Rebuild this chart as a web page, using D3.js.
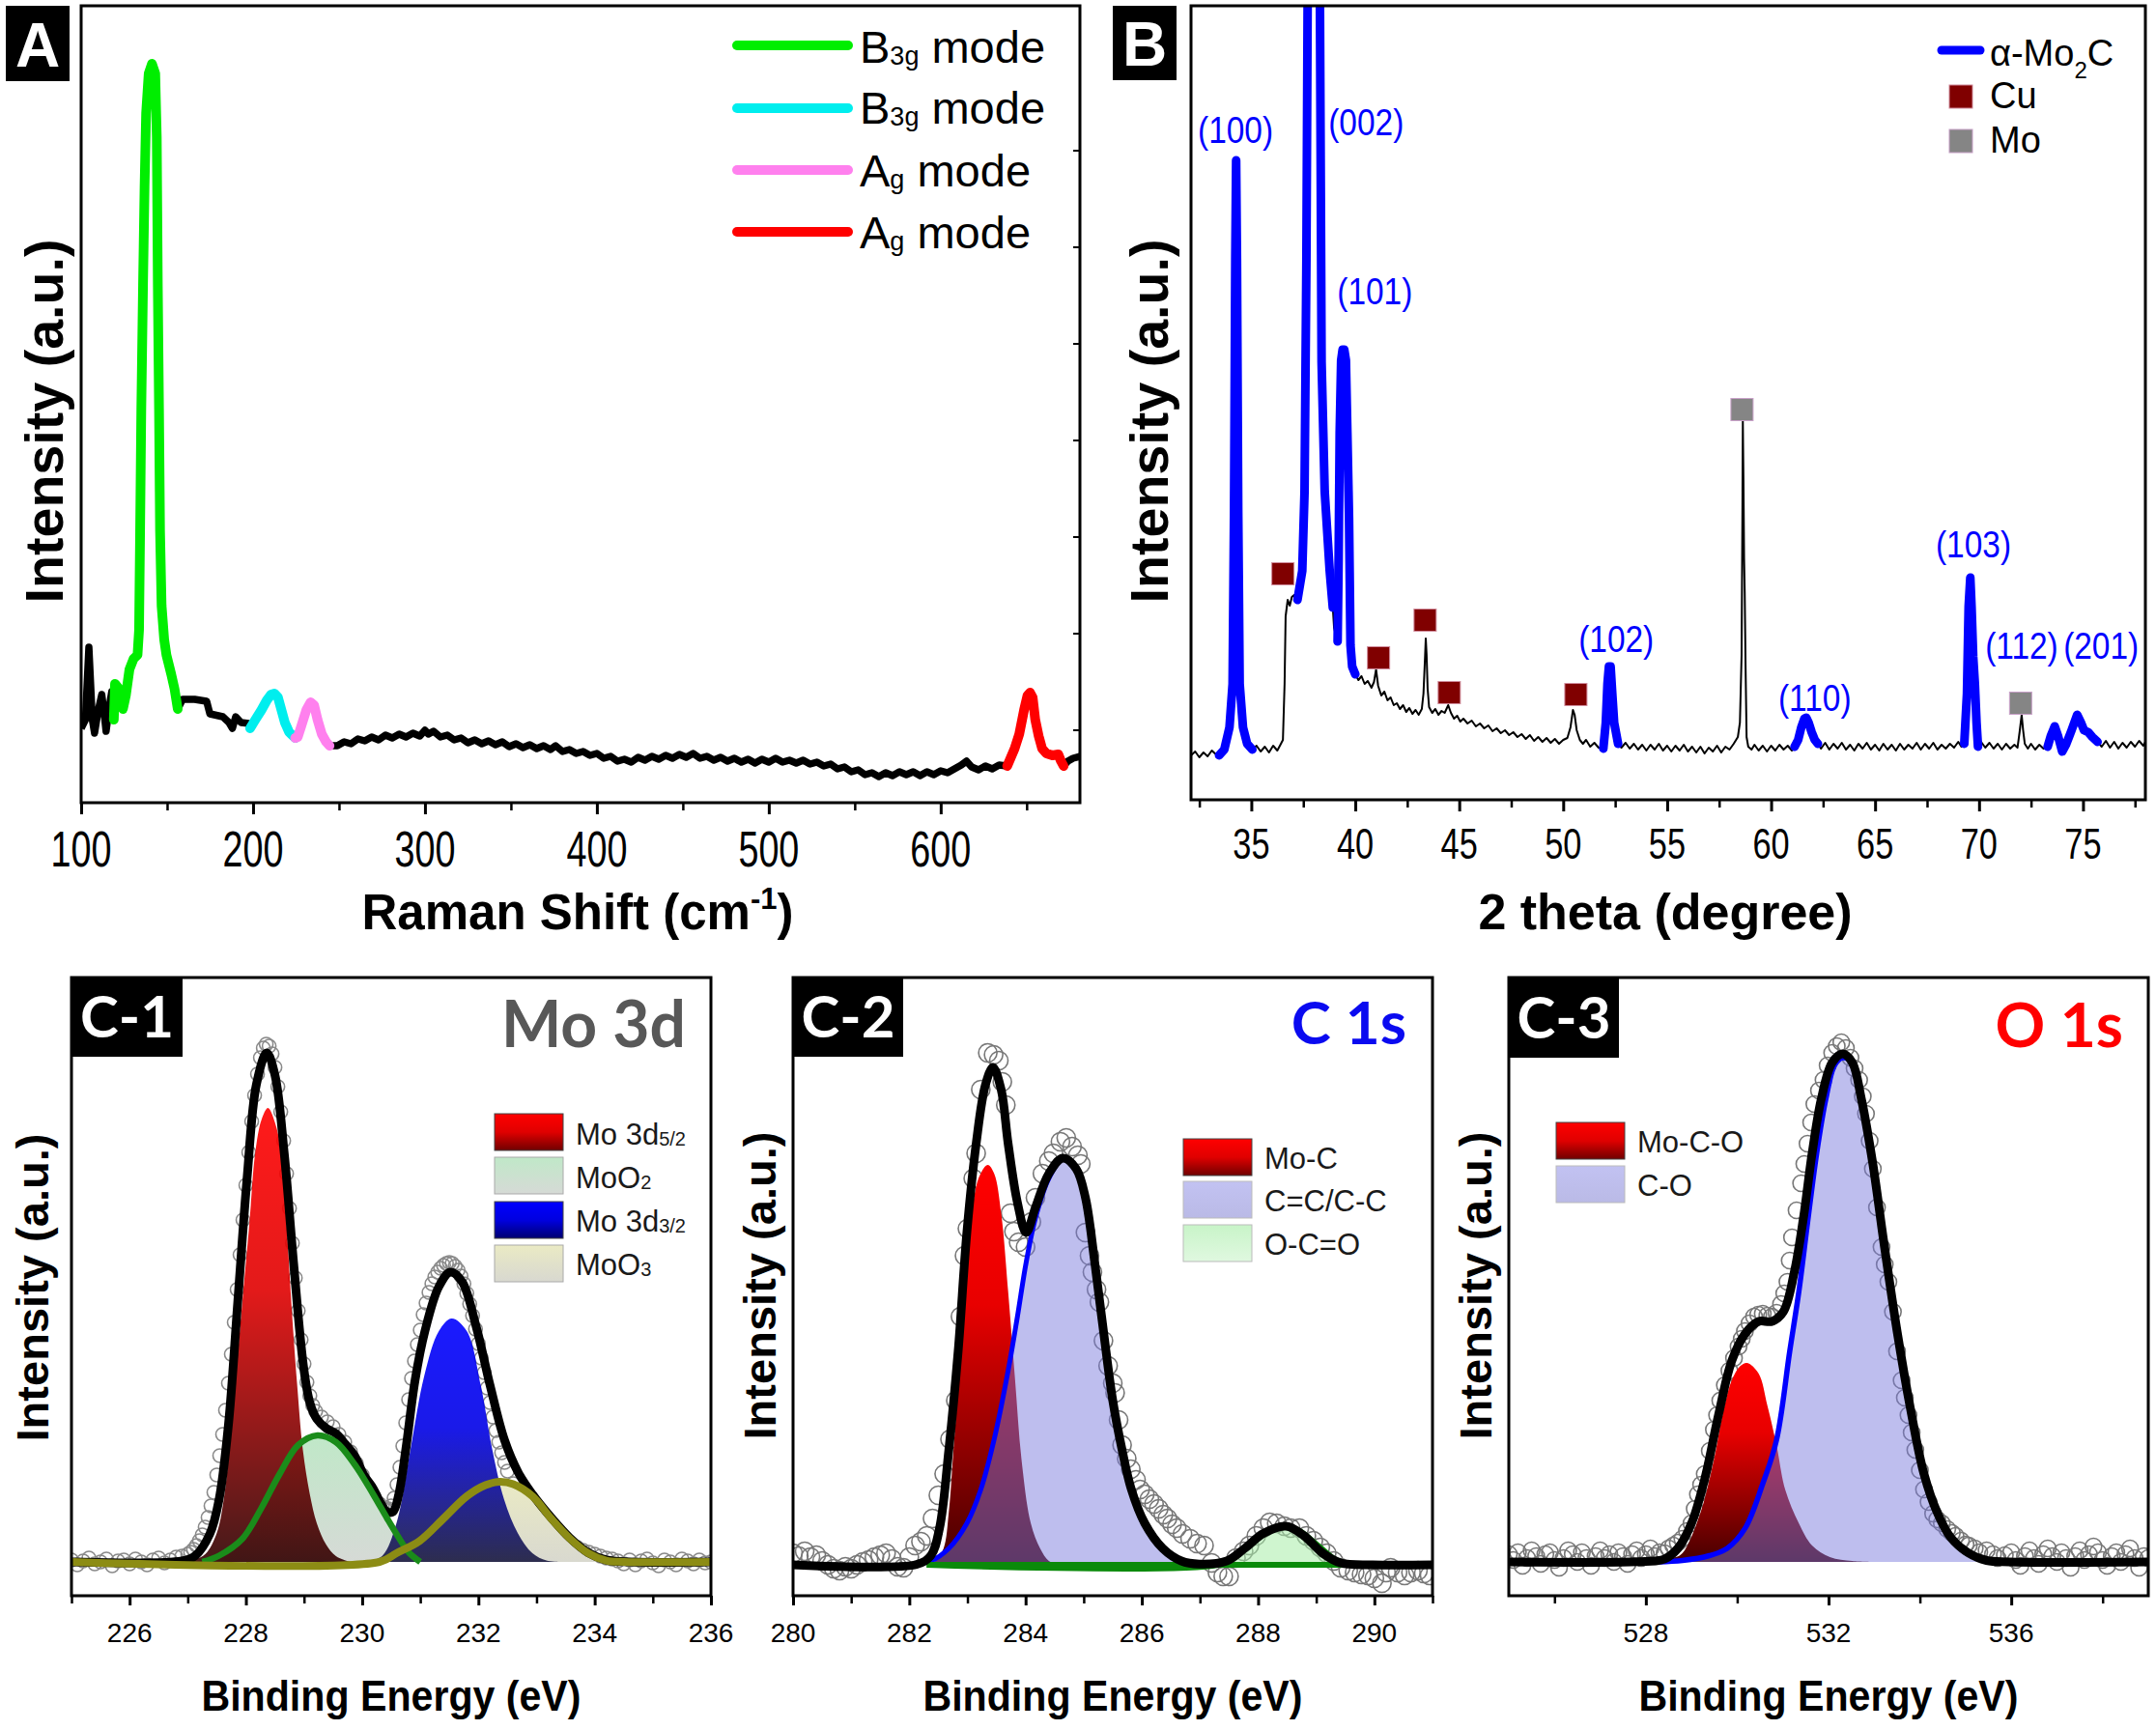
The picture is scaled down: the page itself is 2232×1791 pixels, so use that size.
<!DOCTYPE html>
<html><head><meta charset="utf-8">
<script src="https://cdn.jsdelivr.net/npm/d3@7"></script>
<style>html,body{margin:0;padding:0;background:#fff}svg{display:block}</style>
</head><body>
<svg id="fig" width="2232" height="1791"></svg>
<script>
// ---------------- Panel A : Raman ----------------
const ramanBlack = [[100,102],[102.5,111],[104.5,186],[106.5,111],[107.8,97],[110,121],[112,137],[113.5,116],[114.5,99],[116.5,126],[117.8,140],[119,111],
[156.2,122],[159,132],[166,132],[173,130],[174.9,117],[182.4,114],[186,108],[188,102],[189.9,114],[193,108],[197.4,107],[198.3,102],
[244.5,84],[249,84],[253,88],[257,86],[261,91],[265,89],[269,93],[273,90],[277,95],[281,92],[285,96],[289,93],[293,97],[297,94],[300,100],[302,96],[305,99],[309,93],[313,95],[317,90],[321,92],[325,87],[329,90],[333,86],[337,89],[341,85],[345,88],[349,83],[353,86],[357,82],[361,85],[365,81],[369,84],[373,80],[376,84],[380,78],[384,80],[388,76],[392,78],[396,74],[400,76],[404,71],[408,73],[412,68],[416,70],[420,67],[424,72],[428,69],[432,73],[436,70],[440,74],[444,71],[448,75],[452,72],[456,76],[460,71],[464,73],[468,69],[472,72],[476,68],[480,71],[484,67],[488,70],[492,66],[496,70],[500,67],[504,71],[508,67],[512,69],[516,66],[520,69],[524,65],[528,67],[532,63],[536,65],[540,60],[544,62],[548,57],[552,59],[556,54],[560,56],[564,52],[568,56],[572,53],[576,57],[580,54],[584,57],[588,53],[592,57],[596,54],[600,58],[604,56],[608,60],[612,64],[615,68],[618,62],[622,59],[626,63],[630,60],[634,64],[638.7,63],
[671.5,63],[674,68],[677,71],[681,73]];
const ramanB3g1 = [[119,111],[119.7,148],[121.5,144],[124.3,122],[126,136],[128.1,163],[130.5,174],[132.8,178],[133.7,204],[134.3,306],[135.0,433],[136.0,561],[136.9,663],[137.8,739],[139.3,780],[141.2,790],[143.1,780],[144.0,714],[144.6,561],[145.3,433],[145.9,306],[146.8,229],[148.3,194],[149.6,178],[152.4,158],[154.3,143],[156.2,122]];
const ramanB3g2 = [[198.3,102],[201,110],[204.9,121],[208,131],[210.5,137],[212.4,138],[214.5,134],[216.5,121],[218.5,108],[221,98],[224.5,92]];
const ramanAg1 = [[224.5,92],[226,93],[228,104],[231,121],[233.5,129],[235.5,126],[237.5,111],[240,96],[242.5,88],[244.5,84]];
const ramanAg2 = [[638.7,63],[643,81],[645.7,96],[648.5,121],[650.5,136],[652,139],[653.5,134],[655,111],[657,94],[659,81],[661.5,76],[665,74],[668.4,75],[670,68],[671.5,63]];
const ramanTicksMajor = [100,200,300,400,500,600];
const ramanTicksMinor = [150,250,350,450,550,650];
const ramanRightTicks = [100,200,300,400,500,600,700];
const ramanLegend = [["B","3g","#00ee00"],["B","3g","#00eeee"],["A","g","#ff80ee"],["A","g","#ff0000"]];

// ---------------- Panel B : XRD ----------------
const xrdBlack = [[32.1,46],[32.3,50],[32.5,44],[32.7,49],[32.9,45],[33.1,51],[33.3,47],[33.45,46],
[35.05,52],[35.25,56],[35.45,50],[35.65,55],[35.85,49],[36.05,56],[36.25,51],[36.4,57],[36.52,62],[36.6,120],[36.65,190],[36.75,207],[36.85,201],[36.95,210],[37.06,212],[37.15,206],[37.22,207],
[38.92,199],[38.98,178],[39.08,169],[39.15,164],
[40.0,130],[40.15,124],[40.3,128],[40.45,120],[40.6,123],[40.78,116],[40.9,122],[41.0,135],[41.1,118],[41.25,108],[41.4,112],[41.55,103],[41.7,106],[41.85,98],[42.0,100],[42.15,94],[42.3,98],[42.45,91],[42.6,95],[42.75,89],[42.9,93],[43.05,88],[43.2,94],[43.28,110],[43.36,150],[43.39,167],[43.43,150],[43.48,115],[43.55,96],[43.7,90],[43.85,94],[44.0,88],[44.15,92],[44.3,90],[44.47,98],[44.6,90],[44.75,84],[44.9,87],[45.05,81],[45.2,84],[45.4,79],[45.6,82],[45.8,76],[46.0,79],[46.2,74],[46.4,77],[46.6,71],[46.8,74],[47.0,69],[47.2,72],[47.4,67],[47.6,70],[47.8,65],[48.0,68],[48.2,63],[48.4,67],[48.6,61],[48.8,65],[49.0,60],[49.2,64],[49.4,59],[49.6,63],[49.8,58],[50.0,62],[50.2,64],[50.35,75],[50.47,93],[50.55,88],[50.65,72],[50.8,62],[50.95,58],[51.1,62],[51.3,55],[51.5,59],[51.7,54],[51.93,53],
[52.64,58],[52.8,54],[53.0,59],[53.2,53],[53.4,58],[53.6,52],[53.8,57],[54.0,51],[54.2,57],[54.4,52],[54.6,58],[54.8,51],[55.0,56],[55.2,50],[55.4,56],[55.6,51],[55.8,57],[56.0,50],[56.2,55],[56.4,49],[56.6,55],[56.8,48],[57.0,54],[57.2,50],[57.4,56],[57.6,49],[57.8,55],[58.0,52],[58.2,58],[58.4,65],[58.5,80],[58.58,150],[58.62,300],[58.64,392],[58.67,330],[58.7,250],[58.73,215],[58.77,140],[58.82,65],[58.9,55],[59.06,52],[59.2,57],[59.4,51],[59.6,56],[59.8,50],[60.0,56],[60.2,51],[60.4,57],[60.6,52],[60.8,56],[61.0,51],[61.13,55],
[62.25,58],[62.4,53],[62.6,59],[62.8,52],[63.0,58],[63.2,53],[63.4,59],[63.6,52],[63.8,57],[64.0,51],[64.2,58],[64.4,53],[64.6,59],[64.8,52],[65.0,57],[65.2,51],[65.4,58],[65.6,52],[65.8,57],[66.0,51],[66.2,58],[66.4,52],[66.6,57],[66.8,53],[67.0,59],[67.2,52],[67.4,58],[67.6,53],[67.8,59],[68.0,52],[68.2,57],[68.4,53],[68.6,58],[68.8,54],[69.0,60],[69.15,55],[69.29,58],
[69.95,55],[70.1,60],[70.3,54],[70.5,59],[70.7,53],[70.9,58],[71.1,52],[71.3,58],[71.5,53],[71.7,57],[71.85,54],[71.95,70],[72.05,88],[72.12,72],[72.2,58],[72.35,53],[72.5,58],[72.7,52],[72.9,57],[73.1,53],[73.3,55],
[75.7,60],[75.9,55],[76.1,61],[76.3,54],[76.5,60],[76.7,53],[76.9,59],[77.1,54],[77.3,60],[77.5,55],[77.7,61],[77.9,56],[78.0,60]];
const xrdPeak100 = [[33.45,46],[33.7,52],[33.95,75],[34.1,120],[34.17,300],[34.23,560],[34.27,662],[34.31,560],[34.37,300],[34.44,120],[34.6,75],[34.8,58],[35.05,52]];
const xrdPeak002 = [[37.22,207],[37.45,237],[37.56,319],[37.65,560],[37.71,830],[37.8,1100],[38.0,1250],[38.2,1050],[38.3,830],[38.38,453],[38.53,319],[38.77,237],[38.92,199]];
const xrdPeak101 = [[39.15,164],[39.2,250],[39.25,380],[39.32,455],[39.39,466],[39.47,466],[39.55,455],[39.62,380],[39.7,292],[39.77,160],[39.85,138],[40.0,130]];
const xrdPeak102 = [[51.93,53],[52.05,80],[52.13,120],[52.2,138],[52.28,138],[52.36,110],[52.45,80],[52.64,58]];
const xrdPeak110 = [[61.13,55],[61.3,62],[61.45,75],[61.6,84],[61.69,85],[61.8,80],[61.95,70],[62.1,62],[62.25,58]];
const xrdPeak103 = [[69.29,58],[69.42,110],[69.5,200],[69.58,230],[69.64,200],[69.72,148],[69.8,120],[69.88,80],[69.95,55]];
const xrdPeak112_201 = [[73.3,55],[73.45,66],[73.64,76],[73.8,66],[74.0,50],[74.2,58],[74.45,72],[74.72,88],[74.9,80],[75.05,72],[75.25,70],[75.45,65],[75.7,60]];
const xrdCuMarks = [[36.52,234],[41.12,147],[43.36,186],[44.52,111],[50.61,109]];
const xrdMoMarks = [[58.6,404],[72.0,100]];
const xrdLabels = [["(100)",34.24,680],["(002)",40.52,688],["(101)",40.94,513],["(102)",52.55,153],["(110)",62.1,92],["(103)",69.73,251],["(112)",72.05,146],["(201)",75.87,146]];
const xrdTicksMajor = [35,40,45,50,55,60,65,70,75];
const xrdTicksMinor = [32.5,37.5,42.5,47.5,52.5,57.5,62.5,67.5,72.5,77.5];

// ---------------- Panel C-1 : Mo 3d ----------------
const mo3dCircles = [[225.0,2],[225.1,-3],[225.2,1],[225.3,4],[225.4,-2],[225.5,0],[225.6,3],[225.7,-4],[225.8,1],[225.9,2],[226.0,-2],[226.1,3],[226.2,0],[226.3,-3],[226.4,2],[226.5,4],[226.6,-1],[226.7,2],[226.8,5],[226.9,6],[227.0,8],[227.05,10],[227.1,13],[227.15,17],[227.2,22],[227.25,28],[227.3,36],[227.35,46],[227.4,58],[227.45,72],[227.5,90],[227.55,110],[227.6,132],[227.65,157],[227.7,185],[227.75,215],[227.8,248],[227.85,282],[227.9,318],[227.95,354],[228.0,390],[228.05,424],[228.1,456],[228.15,483],[228.2,505],[228.25,522],[228.3,532],[228.35,536],[228.4,534],[228.45,526],[228.5,512],[228.55,492],[228.6,466],[228.65,436],[228.7,402],[228.75,366],[228.8,330],[228.85,294],[228.9,260],[228.95,230],[229.0,205],[229.05,186],[229.1,172],[229.15,162],[229.2,156],[229.3,150],[229.4,145],[229.5,140],[229.6,132],[229.7,124],[229.8,114],[229.9,102],[230.0,90],[230.1,78],[230.2,68],[230.3,60],[230.35,56],[230.4,54],[230.45,55],[230.5,58],[230.55,66],[230.6,80],[230.65,98],[230.7,120],[230.75,144],[230.8,168],[230.85,190],[230.9,208],[230.95,225],[231.0,240],[231.05,256],[231.1,268],[231.15,279],[231.2,288],[231.25,295],[231.3,300],[231.35,304],[231.4,307],[231.45,309],[231.5,310],[231.55,309],[231.6,306],[231.65,302],[231.7,296],[231.75,288],[231.8,278],[231.85,267],[231.9,255],[231.95,241],[232.0,226],[232.05,211],[232.1,196],[232.15,180],[232.2,165],[232.25,150],[232.3,136],[232.35,124],[232.4,113],[232.45,103],[232.5,94],[232.6,81],[232.7,71],[232.8,62],[232.9,55],[233.0,48],[233.1,42],[233.2,36],[233.3,31],[233.4,26],[233.5,22],[233.6,18],[233.7,15],[233.8,12],[233.9,10],[234.0,8],[234.1,6],[234.2,4],[234.3,3],[234.4,1],[234.5,-2],[234.6,2],[234.7,-3],[234.8,1],[234.9,3],[235.0,-1],[235.1,-4],[235.2,2],[235.3,0],[235.4,-3],[235.5,3],[235.6,1],[235.7,-2],[235.8,2],[235.9,-1],[236.0,0]];
const mo3dFit = [[225,0],[226.9,1],[227.13,6.5],[227.38,29],[227.54,65],[227.7,142],[227.86,269],[228.02,397],[228.18,494],[228.36,527],[228.5,504],[228.66,423],[228.82,310],[228.99,203],[229.1,165],[229.22,148],[229.39,138],[229.55,133],[229.71,122],[229.87,110],[230.03,90],[230.19,76],[230.31,62],[230.43,52],[230.53,52],[230.63,70],[230.75,116],[230.91,188],[231.08,239],[231.32,285],[231.52,300],[231.72,290],[231.96,244],[232.2,183],[232.45,126],[232.69,92],[232.93,70],[233.25,46],[233.57,25],[233.89,9.5],[234.2,2],[234.6,0],[236,0]];
const mo3d52 = [[227.0,0],[227.3,8],[227.5,30],[227.62,65],[227.78,160],[227.94,270],[228.06,350],[228.16,423],[228.27,458],[228.38,470],[228.5,455],[228.61,423],[228.7,350],[228.78,270],[228.88,185],[228.98,116],[229.1,70],[229.22,40],[229.38,18],[229.55,6],[229.8,0]];
const moO2 = [[227.25,0],[227.54,6.5],[227.94,24],[228.26,55],[228.58,91],[228.9,121],[229.23,131],[229.55,124],[229.87,101],[230.19,70],[230.43,45],[230.59,29],[230.8,10],[231.0,0]];
const mo3d32 = [[230.1,0],[230.35,6.5],[230.59,40],[230.83,116],[231.07,193],[231.32,239],[231.54,252],[231.8,239],[232.04,183],[232.24,116],[232.44,65],[232.68,29.5],[232.93,9],[233.17,1.4],[233.4,0]];
const moO3 = [[225,0],[230.3,0],[230.59,9],[230.99,21.8],[231.4,45],[231.8,68],[232.12,79.5],[232.36,83],[232.6,80.5],[232.93,68],[233.25,45],[233.57,24.4],[233.89,9],[234.2,1.4],[234.5,0],[236,0]];
const mo3dTicksMajor = [226,228,230,232,234,236];
const mo3dTicksMinor = [225,227,229,231,233,235];

// ---------------- Panel C-2 : C 1s ----------------
const c1sCircles = [[280.0,12],[280.1,9],[280.2,14],[280.3,8],[280.4,10],[280.5,4],[280.6,0],[280.7,-4],[280.8,-6],[280.9,-2],[281.0,-4],[281.1,0],[281.2,3],[281.3,5],[281.4,8],[281.5,10],[281.6,12],[281.7,6],[281.8,-2],[281.9,-3],[282.0,8],[282.1,20],[282.2,24],[282.3,30],[282.4,48],[282.5,72],[282.6,94],[282.7,130],[282.8,170],[282.88,257],[282.95,320],[283.0,348],[283.1,400],[283.15,426],[283.23,492],[283.35,530],[283.45,528],[283.54,522],[283.6,500],[283.66,476],[283.74,364],[283.8,345],[283.88,334],[284.0,329],[284.1,355],[284.17,380],[284.29,405],[284.4,418],[284.48,426],[284.6,438],[284.7,442],[284.8,433],[284.9,424],[284.95,415],[285.03,344],[285.1,320],[285.15,303],[285.22,285],[285.27,272],[285.34,232],[285.42,206],[285.5,188],[285.54,178],[285.6,150],[285.66,124],[285.74,110],[285.81,99],[285.9,88],[285.97,78],[286.05,73],[286.13,68],[286.21,63],[286.29,58],[286.37,52],[286.44,48],[286.52,42],[286.6,38],[286.7,32],[286.83,27],[286.95,22],[287.07,20],[287.2,2],[287.3,-8],[287.4,-12],[287.5,-12],[287.62,7],[287.75,14],[287.85,20],[287.97,30],[288.09,38],[288.2,44],[288.32,43],[288.45,40],[288.56,38],[288.71,38],[288.83,30],[288.95,25],[289.07,18],[289.18,12],[289.3,4],[289.42,-3],[289.55,-6],[289.66,-8],[289.78,-10],[289.89,-11],[290.0,-14],[290.13,-19],[290.2,-8],[290.28,-3],[290.4,-8],[290.52,-11],[290.63,-8],[290.75,-6],[290.85,-9],[290.95,-11]];
const c1sFit = [[280,0],[282.13,0.5],[282.37,9.5],[282.52,38],[282.68,119],[282.84,221],[282.99,344],[283.15,436],[283.31,497],[283.44,515],[283.58,492],[283.7,436],[283.86,375],[284.01,344],[284.17,370],[284.4,405],[284.64,421],[284.87,410],[285.03,380],[285.19,313],[285.34,242],[285.5,170],[285.66,119],[285.82,78],[286.05,43],[286.36,17],[286.68,4],[286.99,0.8],[287.46,4],[287.77,17],[288.09,32.5],[288.48,40],[288.79,30],[289.11,12],[289.42,2],[289.97,0],[291,0]];
const c1sMoC = [[282.3,0],[282.45,4],[282.59,17],[282.68,55],[282.76,119],[282.89,221],[283.01,323],[283.19,400],[283.35,414],[283.46,405],[283.58,364],[283.7,283],[283.82,191],[283.93,109],[284.09,43],[284.25,17],[284.4,4],[284.56,0]];
const c1sCC = [[282.0,0],[282.37,4],[282.68,17],[282.99,43],[283.23,78],[283.46,130],[283.7,201],[283.86,257],[284.01,313],[284.17,359],[284.4,400],[284.64,420],[284.87,410],[285.03,380],[285.19,313],[285.34,242],[285.5,170],[285.66,119],[285.82,78],[286.05,43],[286.36,17],[286.68,4],[286.99,0],[287.5,0]];
const c1sOCO = [[282.3,0],[287.3,0],[287.62,9],[287.93,24],[288.24,37],[288.48,40],[288.71,35],[289.03,20],[289.34,5],[289.58,0]];
const c1sTicksMajor = [280,282,284,286,288,290];
const c1sTicksMinor = [281,283,285,287,289,291];

// ---------------- Panel C-3 : O 1s ----------------
const o1sCircles = [[525.0,8],[525.1,2],[525.2,10],[525.3,-4],[525.4,4],[525.5,12],[525.6,6],[525.7,-2],[525.8,8],[525.9,10],[526.0,2],[526.1,-6],[526.2,4],[526.3,12],[526.4,8],[526.5,0],[526.6,10],[526.7,4],[526.8,-4],[526.9,6],[527.0,12],[527.1,4],[527.2,8],[527.3,0],[527.4,10],[527.5,6],[527.6,-2],[527.7,8],[527.8,12],[527.9,4],[528.0,8],[528.1,14],[528.2,6],[528.3,10],[528.41,9],[528.5,14],[528.6,17],[528.7,20],[528.8,24],[528.9,32],[529.0,40],[529.07,55],[529.14,70],[529.21,80],[529.29,91],[529.4,115],[529.49,137],[529.56,152],[529.63,167],[529.73,183],[529.83,198],[529.93,211],[530.03,223],[530.1,231],[530.17,239],[530.27,247],[530.37,254],[530.46,256],[530.56,257],[530.66,255],[530.76,254],[530.86,258],[530.96,267],[531.03,278],[531.1,290],[531.15,312],[531.2,336],[531.3,364],[531.4,392],[531.47,412],[531.54,433],[531.62,455],[531.69,474],[531.79,488],[531.89,499],[531.98,514],[532.08,527],[532.18,534],[532.28,538],[532.38,532],[532.48,522],[532.57,511],[532.67,499],[532.75,482],[532.82,464],[532.9,436],[532.97,407],[533.06,367],[533.16,326],[533.23,308],[533.31,290],[533.41,259],[533.5,218],[533.6,188],[533.67,170],[533.75,152],[533.82,134],[533.9,116],[534.0,95],[534.09,75],[534.19,62],[534.29,50],[534.38,44],[534.48,40],[534.6,34],[534.7,30],[534.78,27],[534.9,22],[535.0,18],[535.07,17],[535.2,14],[535.3,10],[535.46,12],[535.6,8],[535.7,4],[535.86,7],[536.0,10],[536.1,2],[536.2,-4],[536.3,6],[536.4,12],[536.5,4],[536.6,-2],[536.7,8],[536.8,14],[536.9,6],[537.0,0],[537.1,10],[537.2,4],[537.3,-6],[537.4,6],[537.5,12],[537.6,2],[537.7,8],[537.8,16],[537.9,10],[538.0,2],[538.1,-4],[538.2,6],[538.3,10],[538.4,0],[538.5,8],[538.6,14],[538.7,4],[538.8,-6],[538.9,6],[539.0,4]];
const o1sFit = [[525,0],[528.2,1],[528.41,3],[528.7,14],[529.0,40],[529.29,86],[529.59,152],[529.88,208],[530.17,236],[530.47,249],[530.76,249],[531.01,259],[531.25,300],[531.45,356],[531.64,423],[531.84,479],[532.08,517],[532.31,526],[532.52,517],[532.72,479],[532.97,412],[533.21,331],[533.5,239],[533.8,157],[534.09,91],[534.39,50],[534.68,25],[535.07,9],[535.46,1.5],[535.95,0],[539,0]];
const o1sMoCO = [[528.3,0],[528.6,4],[528.8,9],[529.19,50],[529.49,106],[529.68,152],[529.88,188],[530.07,203],[530.22,206],[530.47,195],[530.66,162],[530.86,121],[531.05,75],[531.35,40],[531.64,17],[532.03,5],[532.52,1],[533.0,0]];
const o1sCO = [[525,0],[528.2,0],[528.8,1.5],[529.39,6.5],[529.78,14],[530.17,34.6],[530.56,81],[530.86,126],[531.15,218],[531.35,280],[531.54,351],[531.74,423],[531.94,479],[532.13,514],[532.31,522],[532.52,517],[532.72,479],[532.97,412],[533.21,331],[533.5,239],[533.8,157],[534.09,91],[534.39,50],[534.68,25],[535.07,9],[535.46,1.5],[535.95,0],[539,0]];
const o1sTicksMajor = [528,532,536];
const o1sTicksMinor = [526,530,534,538];

// ================= drawing =================
const svg = d3.select("#fig");
const defs = svg.append("defs");
const ARIAL = "'Liberation Sans', Arial, sans-serif";
const CALI = "Lato, 'Open Sans', sans-serif";

function grad(id, stops){
  const g = defs.append("linearGradient").attr("id", id).attr("x1",0).attr("y1",0).attr("x2",0).attr("y2",1);
  stops.forEach(s=>g.append("stop").attr("offset",s[0]).attr("stop-color",s[1]));
}
grad("gRed1",[[0,"#ff0000"],[0.4,"#e00000"],[1,"#300000"]]);
grad("gBlue1",[[0,"#0000ff"],[0.45,"#0000e6"],[1,"#1a1a40"]]);
grad("gMoO2",[[0,"#c0e8c8"],[1,"#d6dad6"]]);
grad("gMoO3",[[0,"#eaeac4"],[1,"#d8d8d0"]]);
grad("gRed2",[[0,"#ff0000"],[0.35,"#e80000"],[1,"#460000"]]);
grad("gLegRed",[[0,"#ff0000"],[0.5,"#e00000"],[1,"#700000"]]);
grad("gLegBlue",[[0,"#0000ff"],[0.5,"#0000e0"],[1,"#000070"]]);
grad("gLegCC",[[0,"#c2c2f2"],[1,"#babae6"]]);
grad("gLegOCO",[[0,"#c8f4c8"],[1,"#e0f8e0"]]);

function panel(name, p){
  const x = d3.scaleLinear().domain(p.xd).range([p.x0,p.x1]);
  const y = d3.scaleLinear().domain(p.yd).range([p.y1,p.y0]);
  defs.append("clipPath").attr("id","clip"+name).append("rect")
    .attr("x",p.x0).attr("y",p.y0).attr("width",p.x1-p.x0).attr("height",p.y1-p.y0);
  const g = svg.append("g");
  const plot = g.append("g").attr("clip-path",`url(#clip${name})`);
  return {x,y,g,plot,p};
}
function frame(P){
  const p=P.p;
  P.g.append("rect").attr("x",p.x0).attr("y",p.y0).attr("width",p.x1-p.x0).attr("height",p.y1-p.y0)
    .attr("fill","none").attr("stroke","#000").attr("stroke-width",3);
}
function ticks(P, majors, minors, majLen, minLen){
  const p=P.p;
  const a = d3.axisBottom(P.x).tickValues(majors).tickSize(majLen).tickFormat("");
  P.g.append("g").attr("transform",`translate(0,${p.y1})`).call(a)
    .call(g=>g.select(".domain").remove()).selectAll("line").attr("stroke","#000").attr("stroke-width",3);
  const b = d3.axisBottom(P.x).tickValues(minors).tickSize(minLen).tickFormat("");
  P.g.append("g").attr("transform",`translate(0,${p.y1})`).call(b)
    .call(g=>g.select(".domain").remove()).selectAll("line").attr("stroke","#000").attr("stroke-width",2.5);
}
function tickLabels(P, vals, base, size, sx, family){
  P.g.selectAll(null).data(vals).enter().append("text")
    .attr("transform", d=>`translate(${P.x(d)},${base}) scale(${sx},1)`)
    .attr("text-anchor","middle").attr("font-family",family||ARIAL).attr("font-size",size)
    .attr("fill","#000").text(d=>d);
}
function lineGen(P, curve){ return d3.line().x(d=>P.x(d[0])).y(d=>P.y(d[1])).curve(curve||d3.curveLinear); }
function areaGen(P, curve){ return d3.area().x(d=>P.x(d[0])).y0(P.y(0)).y1(d=>P.y(d[1])).curve(curve||d3.curveLinear); }
function boxLabel(x,y,w,h,txt,size,family,base){
  svg.append("rect").attr("x",x).attr("y",y).attr("width",w).attr("height",h).attr("fill","#000");
  svg.append("text").attr("x",x+w/2).attr("y",base).attr("text-anchor","middle").attr("fill","#fff")
    .attr("font-family",family).attr("font-weight","bold").attr("font-size",size).text(txt);
}
function yTitle(cx, cy, size, len){
  svg.append("text").attr("transform",`translate(${cx},${cy}) rotate(-90)`).attr("text-anchor","middle")
    .attr("dominant-baseline","central").attr("font-family",ARIAL).attr("font-weight","bold")
    .attr("font-size",size).attr("textLength",len).attr("lengthAdjust","spacingAndGlyphs").text("Intensity (a.u.)");
}

// ---------- Panel A ----------
const A = panel("A",{x0:84,x1:1118,y0:6,y1:831,xd:[100,681],yd:[25,850]});
{
  const all = [...ramanBlack, ...ramanB3g1, ...ramanB3g2, ...ramanAg1, ...ramanAg2].sort((a,b)=>a[0]-b[0]);
  const L = lineGen(A);
  A.plot.append("path").attr("d",L(all)).attr("fill","none").attr("stroke","#000").attr("stroke-width",7.5).attr("stroke-linejoin","round");
  [[ramanB3g1,"#00ee00"],[ramanB3g2,"#00eeee"],[ramanAg1,"#ff80ee"],[ramanAg2,"#ff0000"]].forEach(([d,c])=>{
    A.plot.append("path").attr("d",L(d)).attr("fill","none").attr("stroke",c).attr("stroke-width",10)
      .attr("stroke-linejoin","round").attr("stroke-linecap","round");
  });
  frame(A);
  ticks(A, ramanTicksMajor, ramanTicksMinor, 12, 8);
  A.g.selectAll(null).data(ramanRightTicks).enter().append("line")
    .attr("x1",1118).attr("x2",1111).attr("y1",d=>A.y(d)).attr("y2",d=>A.y(d)).attr("stroke","#000").attr("stroke-width",2);
  tickLabels(A, ramanTicksMajor, 897, 51, 0.74);
  ramanLegend.forEach((r,i)=>{
    const ly = [47,112,176,240][i], tb=[65,128,193,257][i];
    svg.append("line").attr("x1",763).attr("x2",878).attr("y1",ly).attr("y2",ly).attr("stroke",r[2])
      .attr("stroke-width",10).attr("stroke-linecap","round");
    const t = svg.append("text").attr("x",890).attr("y",tb).attr("font-family",ARIAL).attr("font-size",47);
    t.append("tspan").text(r[0]);
    t.append("tspan").attr("font-size",27).attr("dy",2).text(r[1]);
    t.append("tspan").attr("dy",-2).text(" mode");
  });
  const xt = svg.append("text").attr("x",598).attr("y",962).attr("text-anchor","middle").attr("font-family",ARIAL)
    .attr("font-weight","bold").attr("font-size",51);
  xt.append("tspan").text("Raman Shift (cm");
  xt.append("tspan").attr("font-size",31).attr("dy",-21).text("-1");
  xt.append("tspan").attr("dy",21).text(")");
  yTitle(46, 436, 55, 377);
  boxLabel(6,6,66,78,"A",64,ARIAL,69);
}

// ---------- Panel B ----------
const B = panel("B",{x0:1233,x1:2221,y0:6,y1:828,xd:[32.1,78],yd:[0,822]});
{
  const peaks = [xrdPeak100,xrdPeak002,xrdPeak101,xrdPeak102,xrdPeak110,xrdPeak103,xrdPeak112_201];
  const all = [...xrdBlack, ...peaks.flat()].sort((a,b)=>a[0]-b[0]);
  const L = lineGen(B);
  B.plot.append("path").attr("d",L(all)).attr("fill","none").attr("stroke","#000").attr("stroke-width",2).attr("stroke-linejoin","round");
  peaks.forEach(d=>{
    B.plot.append("path").attr("d",L(d)).attr("fill","none").attr("stroke","#0000ff").attr("stroke-width",9)
      .attr("stroke-linejoin","round").attr("stroke-linecap","round");
  });
  const sq = 23;
  B.plot.selectAll(null).data(xrdCuMarks).enter().append("rect")
    .attr("x",d=>B.x(d[0])-sq/2).attr("y",d=>B.y(d[1])-sq/2).attr("width",sq).attr("height",sq)
    .attr("fill","#800000").attr("stroke","#d08c9c").attr("stroke-width",1);
  B.plot.selectAll(null).data(xrdMoMarks).enter().append("rect")
    .attr("x",d=>B.x(d[0])-sq/2).attr("y",d=>B.y(d[1])-sq/2).attr("width",sq).attr("height",sq)
    .attr("fill","#858585").attr("stroke","#c8a0c8").attr("stroke-width",1);
  B.g.selectAll(null).data(xrdLabels).enter().append("text")
    .attr("transform",d=>`translate(${B.x(d[1])},${B.y(d[2])}) scale(0.88,1)`)
    .attr("text-anchor","middle").attr("font-family",ARIAL).attr("font-size",38).attr("fill","#0000ff").text(d=>d[0]);
  frame(B);
  ticks(B, xrdTicksMajor, xrdTicksMinor, 12, 8);
  tickLabels(B, xrdTicksMajor, 889, 44, 0.78);
  svg.append("line").attr("x1",2010).attr("x2",2050).attr("y1",52).attr("y2",52).attr("stroke","#0000ff")
    .attr("stroke-width",9).attr("stroke-linecap","round");
  const t = svg.append("text").attr("x",2060).attr("y",68).attr("font-family",ARIAL).attr("font-size",38);
  t.append("tspan").text("\u03B1-Mo");
  t.append("tspan").attr("font-size",24).attr("dy",13).text("2");
  t.append("tspan").attr("dy",-13).text("C");
  svg.append("rect").attr("x",2018).attr("y",88).attr("width",24).attr("height",24).attr("fill","#800000").attr("stroke","#d08c9c");
  svg.append("text").attr("x",2060).attr("y",112).attr("font-family",ARIAL).attr("font-size",38).text("Cu");
  svg.append("rect").attr("x",2018).attr("y",134).attr("width",24).attr("height",24).attr("fill","#858585").attr("stroke","#c8a0c8");
  svg.append("text").attr("x",2060).attr("y",158).attr("font-family",ARIAL).attr("font-size",38).text("Mo");
  svg.append("text").attr("x",1724).attr("y",962).attr("text-anchor","middle").attr("font-family",ARIAL)
    .attr("font-weight","bold").attr("font-size",52).text("2 theta (degree)");
  yTitle(1190, 436, 55, 377);
  boxLabel(1152,6,66,77,"B",64,ARIAL,68);
}

// ---------- XPS helpers ----------
function circles(P, data, r, col){
  P.plot.selectAll(null).data(data).enter().append("circle")
    .attr("cx",d=>P.x(d[0])).attr("cy",d=>P.y(d[1])).attr("r",r)
    .attr("fill","none").attr("stroke",col).attr("stroke-width",1.6);
}
function xpsAxes(P, majors, minors, cx){
  frame(P);
  ticks(P, majors, minors, 10, 8);
  tickLabels(P, majors, 1700, 28, 1);
  svg.append("text").attr("x",cx).attr("y",1771).attr("text-anchor","middle").attr("font-family",ARIAL)
    .attr("font-weight","bold").attr("font-size",44).attr("textLength",393).attr("lengthAdjust","spacingAndGlyphs")
    .text("Binding Energy (eV)");
}
function legendRows(x, ys, baseY, items){
  items.forEach((it,i)=>{
    svg.append("rect").attr("x",x).attr("y",ys[i]).attr("width",71).attr("height",38)
      .attr("fill",it.fill).attr("stroke",it.stroke||"#444").attr("stroke-width",1);
    const t = svg.append("text").attr("x",x+84).attr("y",baseY[i]).attr("font-family",ARIAL)
      .attr("font-size",31).attr("fill","#1a1a1a");
    t.append("tspan").text(it.a);
    if(it.sub){ t.append("tspan").attr("font-size",20).attr("dy",1).text(it.sub); }
  });
}
const CS = d3.curveCatmullRom.alpha(0.5);

// ---------- C-1 ----------
const C1 = panel("C1",{x0:74,x1:736,y0:1012,y1:1652,xd:[225,236],yd:[-35,605]});
{
  circles(C1, mo3dCircles, 7, "#8a8a8a");
  const Ar = areaGen(C1, CS), L = lineGen(C1, CS);
  C1.plot.append("path").attr("d",Ar(moO2)).attr("fill","url(#gMoO2)");
  C1.plot.append("path").attr("d",Ar(moO3)).attr("fill","url(#gMoO3)");
  C1.plot.append("path").attr("d",Ar(mo3d52)).attr("fill","url(#gRed1)").attr("opacity",0.9);
  C1.plot.append("path").attr("d",Ar(mo3d32)).attr("fill","url(#gBlue1)").attr("opacity",0.9);
  C1.plot.append("path").attr("d",L(mo3dFit)).attr("fill","none").attr("stroke","#000").attr("stroke-width",9).attr("stroke-linejoin","round");
  C1.plot.append("path").attr("d",L(moO2)).attr("fill","none").attr("stroke","#1a8c1a").attr("stroke-width",6.5);
  C1.plot.append("path").attr("d",L(moO3)).attr("fill","none").attr("stroke","#8c8c14").attr("stroke-width",8);
  xpsAxes(C1, mo3dTicksMajor, mo3dTicksMinor, 405);
  legendRows(512,[1153,1198,1244,1289],[1185,1230,1275,1320],[
    {fill:"url(#gLegRed)",a:"Mo 3d",sub:"5/2"},{fill:"url(#gMoO2)",a:"MoO",sub:"2",stroke:"#aaa"},
    {fill:"url(#gLegBlue)",a:"Mo 3d",sub:"3/2"},{fill:"url(#gMoO3)",a:"MoO",sub:"3",stroke:"#aaa"}]);
  svg.append("text").attr("x",710).attr("y",1084).attr("text-anchor","end").attr("font-family",CALI)
    .attr("font-weight","bold").attr("font-size",66).attr("fill","#585858").text("Mo 3d");
  yTitle(33, 1333, 47, 319);
  boxLabel(74,1012,115,82,"C-1",60,CALI,1074);
}

// ---------- C-2 ----------
const C2 = panel("C2",{x0:821,x1:1483,y0:1012,y1:1652,xd:[280,291],yd:[-32,608]});
{
  circles(C2, c1sCircles, 9.5, "#777");
  const Ar = areaGen(C2, CS), L = lineGen(C2, CS);
  C2.plot.append("path").attr("d",Ar(c1sMoC)).attr("fill","url(#gRed2)");
  C2.plot.append("path").attr("d",Ar(c1sCC)).attr("fill","#7878dc").attr("fill-opacity",0.48);
  C2.plot.append("path").attr("d",Ar(c1sOCO)).attr("fill","#a8eca8").attr("fill-opacity",0.55);
  C2.plot.append("path").attr("d",L(c1sCC)).attr("fill","none").attr("stroke","#0000ff").attr("stroke-width",5);
  const ocoBase = [[c1sOCO[0][0],0],[c1sOCO[c1sOCO.length-1][0],0]];
  C2.plot.append("path").attr("d",L(c1sOCO)).attr("fill","none").attr("stroke","#0a8a0a").attr("stroke-width",6);
  C2.plot.append("path").attr("d",lineGen(C2)(ocoBase)).attr("fill","none").attr("stroke","#0a8a0a").attr("stroke-width",6);
  C2.plot.append("path").attr("d",L(c1sFit)).attr("fill","none").attr("stroke","#000").attr("stroke-width",9).attr("stroke-linejoin","round");
  xpsAxes(C2, c1sTicksMajor, c1sTicksMinor, 1152);
  legendRows(1225,[1179,1223,1268],[1210,1254,1299],[
    {fill:"url(#gLegRed)",a:"Mo-C"},{fill:"url(#gLegCC)",a:"C=C/C-C",stroke:"#bbb"},{fill:"url(#gLegOCO)",a:"O-C=O",stroke:"#bbb"}]);
  svg.append("text").attr("x",1456).attr("y",1081).attr("text-anchor","end").attr("font-family",CALI)
    .attr("font-weight","bold").attr("font-size",62).attr("fill","#0a0af0").text("C 1s");
  yTitle(786, 1331, 47, 319);
  boxLabel(821,1012,114,82,"C-2",60,CALI,1074);
}

// ---------- C-3 ----------
const C3 = panel("C3",{x0:1562,x1:2224,y0:1012,y1:1652,xd:[525,539],yd:[-35,605]});
{
  circles(C3, o1sCircles, 8.5, "#777");
  const Ar = areaGen(C3, CS), L = lineGen(C3, CS);
  C3.plot.append("path").attr("d",Ar(o1sMoCO)).attr("fill","url(#gRed2)");
  C3.plot.append("path").attr("d",Ar(o1sCO)).attr("fill","#7878dc").attr("fill-opacity",0.48);
  C3.plot.append("path").attr("d",L(o1sCO)).attr("fill","none").attr("stroke","#0000ff").attr("stroke-width",5.5);
  C3.plot.append("path").attr("d",L(o1sFit)).attr("fill","none").attr("stroke","#000").attr("stroke-width",9).attr("stroke-linejoin","round");
  xpsAxes(C3, o1sTicksMajor, o1sTicksMinor, 1893);
  legendRows(1611,[1162,1207],[1193,1238],[
    {fill:"url(#gLegRed)",a:"Mo-C-O"},{fill:"url(#gLegCC)",a:"C-O",stroke:"#bbb"}]);
  svg.append("text").attr("x",2198).attr("y",1084).attr("text-anchor","end").attr("font-family",CALI)
    .attr("font-weight","bold").attr("font-size",64).attr("fill","#ff0000").text("O 1s");
  yTitle(1527, 1331, 47, 319);
  boxLabel(1562,1012,114,83,"C-3",60,CALI,1075);
}
</script>
</body></html>
